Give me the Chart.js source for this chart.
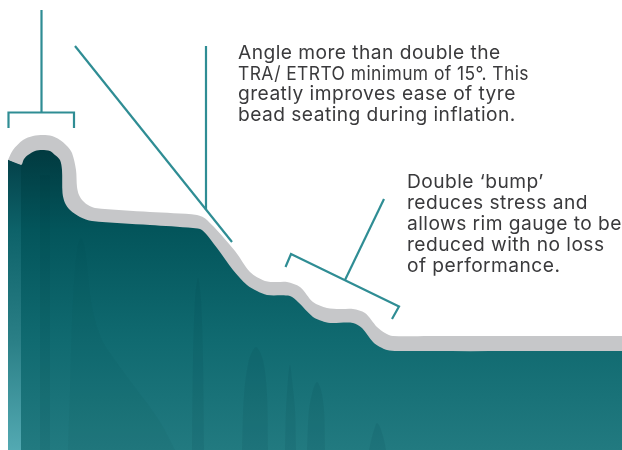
<!DOCTYPE html>
<html><head><meta charset="utf-8">
<style>html,body{margin:0;padding:0;background:#fff}canvas{display:block}</style>
<script src="https://cdn.jsdelivr.net/npm/chart.js@4"></script></head>
<body><canvas id="c" width="622" height="450"></canvas>
<script>
const rimOuterX=[8,13,23,33,43,52,60,67,72,76,77,79,83,88,95,150,197,207,235,250,265,276,287,300,313,327,340,353,365,377,385,393,430,622];
const rimOuterY=[160,150,140,136,135,136,140,146,153,170,187,195,201,205,208,212,215,220,251,272,281,282,282,287,302,308,309,309,313,327,333,336,336,336];
const rimInnerX=[8,21,24,28,35,42,50,55,60,62,62.5,65,70,80,92,150,193,202,217,233,247,257,267,290,298,313,322,330,353,362,373,380,387,397,622];
const rimInnerY=[160,165,159,155,151,150,151,155,160,170,193,203,210,217,221,225,228,230,248,270,285,291,295,296,302,317,321,323,323,328,342,347,350,351,351];
const stripX=[8,21];const stripY=[160,165];
const bandX=[40,50];const bandY=[175,175];
const spireAX=[68,70,72,75,78,81,84,87,90,95,102,110,128,147,162,175];
const spireAY=[450,390,320,270,245,238,245,265,295,320,340,353,378,403,425,450];
const spireBX=[192,193,195,198,201,203,204];const spireBY=[450,360,300,278,300,360,450];
const spireCX=[242,244,249,256,263,267,268];const spireCY=[450,395,360,347,360,395,450];
const spireDX=[285,286,288,290,292,295,296];const spireDY=[450,410,380,365,380,410,450];
const spireEX=[307,309,313,317,321,324,325];const spireEY=[450,410,390,382,390,410,450];
const spireFX=[369,372,375,377,380,384,386];const spireFY=[450,437,427,423,427,440,450];
const leaderAX=[41.5,41.5];const leaderAY=[10,112];
const bracketAX=[8.5,8.5,74,74];const bracketAY=[128,112.5,112.5,128];
const leaderBX=[75,232];const leaderBY=[46,242];
const leaderCX=[206,206];const leaderCY=[46,210];
const leaderDX=[384,345];const leaderDY=[199,280];
const bracketBX=[285.5,291,399,392];const bracketBY=[267,254,306.5,319];
const noteA=["Angle more than double the","TRA/ ETRTO minimum of 15°. This","greatly improves ease of tyre","bead seating during inflation."];
const noteAY=[53,74,94.5,115.5];
const noteB=["Double ‘bump’","reduces stress and","allows rim gauge to be","reduced with no loss","of performance."];
const noteBY=[182,203,224,245,266.5];
const TEAL="#2f8d94",GREY="#c6c7c9";
const pts=(xs,ys)=>xs.map((x,i)=>({x,y:ys[i]}));
const grad=(stops)=>(ctx)=>{const a=ctx.chart.chartArea;if(!a)return stops[0][1];
  const s=ctx.chart.scales.y,g=ctx.chart.ctx.createLinearGradient(0,s.getPixelForValue(stops[0][0]),0,s.getPixelForValue(stops[stops.length-1][0]));
  const y0=stops[0][0],y1=stops[stops.length-1][0];
  stops.forEach(([y,c])=>g.addColorStop((y-y0)/(y1-y0),c));return g;};
const leader=(xs,ys)=>({data:pts(xs,ys),borderColor:TEAL,borderWidth:2.2,pointRadius:0,fill:false,tension:0,borderCapStyle:'butt'});
const area=(xs,ys,bg,t)=>({data:pts(xs,ys),borderWidth:0,borderColor:'transparent',backgroundColor:bg,pointRadius:0,tension:t,fill:{value:450}});
const SP='rgba(0,62,68,0.10)';
const datasets=[
 leader(leaderAX,leaderAY),leader(bracketAX,bracketAY),leader(leaderBX,leaderBY),leader(leaderCX,leaderCY),leader(leaderDX,leaderDY),leader(bracketBX,bracketBY),
 area(spireAX,spireAY,'rgba(0,62,68,0.06)',0.3),area(spireBX,spireBY,SP,0.3),area(spireCX,spireCY,SP,0.3),area(spireDX,spireDY,SP,0.3),area(spireEX,spireEY,SP,0.3),area(spireFX,spireFY,SP,0.3),
 area(bandX,bandY,'rgba(0,50,56,0.08)',0),
 area(stripX,stripY,grad([[160,'#04424a'],[230,'#0d6269'],[340,'#2a7f86'],[450,'#53a9b2']]),0),
 area(rimInnerX,rimInnerY,grad([[150,'#013a40'],[230,'#03555b'],[340,'#106a70'],[450,'#227a80']]),0.3),
 area(rimOuterX,rimOuterY,GREY,0.3)
];
const notes={id:'notes',afterDraw(ch){const c=ch.ctx,x=ch.scales.x,y=ch.scales.y;c.save();
  c.fillStyle='#3a3a3c';c.font='400 19.2px Inter';c.letterSpacing='0.45px';c.textBaseline='middle';c.textAlign='left';
  noteA.forEach((t,i)=>c.fillText(t,x.getPixelForValue(238),y.getPixelForValue(noteAY[i]),291));
  noteB.forEach((t,i)=>c.fillText(t,x.getPixelForValue(407),y.getPixelForValue(noteBY[i]),215));
  c.restore();}};
new Chart(document.getElementById('c'),{type:'line',data:{datasets},plugins:[notes],options:{
  responsive:false,animation:false,devicePixelRatio:1,layout:{padding:0},
  plugins:{legend:{display:false},tooltip:{enabled:false},title:{display:false}},
  scales:{x:{type:'linear',min:0,max:622,display:false},y:{type:'linear',min:0,max:450,reverse:true,display:false}}}});
</script></body></html>
